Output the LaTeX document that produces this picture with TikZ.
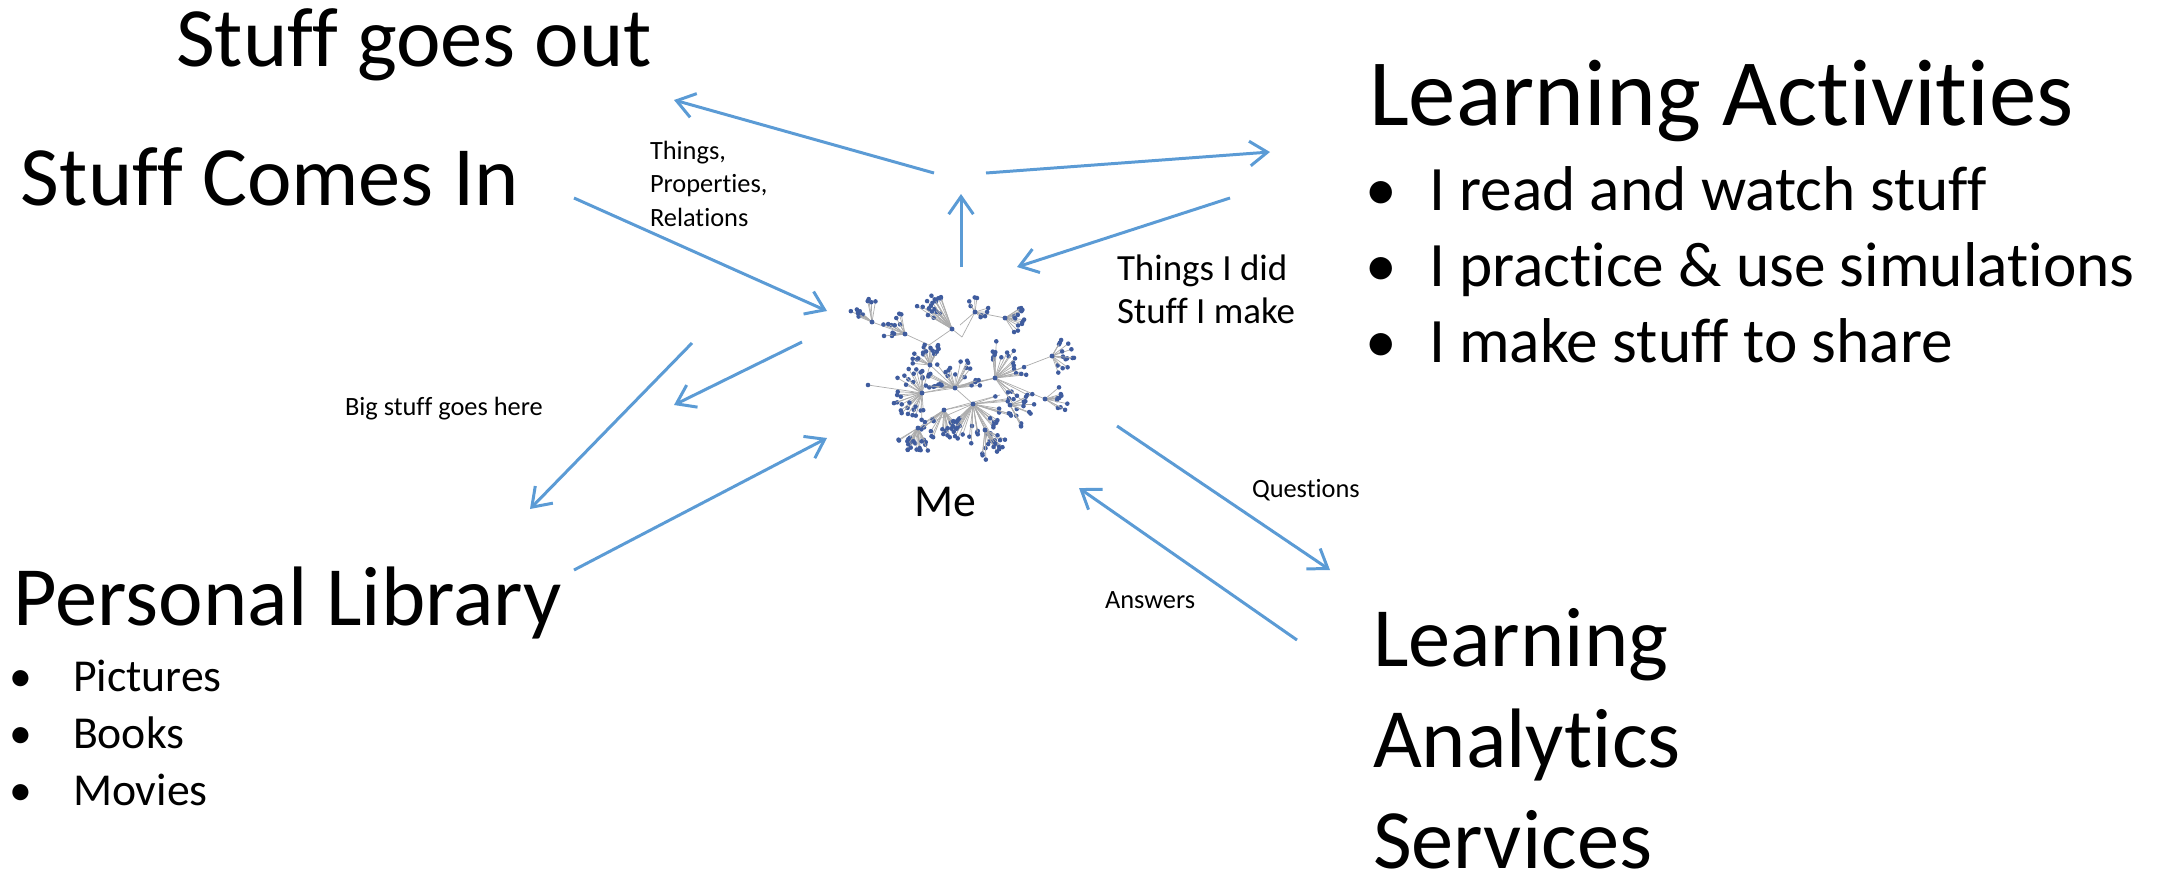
\documentclass[tikz,border=0pt]{standalone}
\usepackage{fontspec}
\setmainfont{Carlito}[Ligatures=CommonOff]
\usetikzlibrary{arrows.meta,positioning}
\definecolor{flowblue}{HTML}{5B9BD5}
\definecolor{dotblue}{HTML}{3F5C9E}

\begin{document}
\begin{tikzpicture}[x=0.01cm, y=-0.01cm,%
	every node/.style={inner sep=0pt, outer sep=0pt, anchor=base west},
	title/.style={font=\fontsize{24}{28.7}\selectfont, align=left},
	bigtitle/.style={font=\fontsize{27}{32}\selectfont},
	item/.style={font=\fontsize{18}{21.6}\selectfont},
	smallitem/.style={font=\fontsize{13}{16}\selectfont},
	note/.style={font=\fontsize{7.5}{9.5}\selectfont, align=left},
	midnote/.style={font=\fontsize{10.5}{12}\selectfont, align=left},
	flow/.style={draw=flowblue, line width=0.85pt, -{Straight Barb[length=5pt,width=7pt]}},
	web/.style={draw=gray!65, line width=0.2pt}]
	\useasboundingbox (0,0) rectangle (2169,881);

	% headings (multi-line nodes sit on their last baseline)
	\node (so) [title] at (176,66) {Stuff goes out};
	\node (sci) [title] at (21,205) {Stuff Comes In};
	\node (la) [bigtitle] at (1369,125) {Learning Activities};
	\node (pl) [title] at (14,625) {Personal Library};
	\node (las) [title] at (1373,868) {Learning\\Analytics\\Services};

	% bullet lists
	\foreach \txt [count=\i] in {I read and watch stuff, I practice \& use simulations, I make stuff to share}{
		\node (lab\i) [item] at (1365,134+76*\i) {\textbullet};
		\node (la\i) [item] at (1429,134+76*\i) {\txt};
	}
	\foreach \txt [count=\i] in {Pictures, Books, Movies}{
		\node (plb\i) [smallitem] at (9,634+57*\i) {\textbullet};
		\node (pl\i) [smallitem] at (73,634+57*\i) {\txt};
	}

	% labels on the flows
	\node (tpr) [note] at (650,226) {Things,\\Properties,\\Relations};
	\node (did) [midnote] at (1117,323) {Things I did\\Stuff I make};
	\node (big) [note] at (345,415) {Big stuff goes here};
	\node (q) [note] at (1252,497) {Questions};
	\node (ans) [note] at (1105,608) {Answers};
	\node (me) [smallitem, anchor=base] at (945,516) {Me};

	% the network that is me
	\pgfmathsetseed{4242}
	\foreach \ax/\ay/\bx/\by in {872/322/905/334, 905/334/929/345, 929/345/952/329,
		952/329/962/337, 929/345/930/365, 930/365/922/393, 922/393/868/385,
		922/393/955/388, 955/388/973/404, 973/404/944/410, 944/410/918/428,
		955/388/995/378, 995/378/1052/356, 995/378/1045/399, 973/404/985/430,
		930/365/955/388, 975/312/1005/318, 975/312/960/325, 962/337/975/312,
		944/410/1000/395, 918/428/973/404, 955/388/1020/372, 922/393/995/378}
		\draw[web] (\ax,\ay) -- (\bx,\by);
	\foreach \hx/\hy/\n/\r/\a/\s in {872/322/12/26/125/50, 905/334/12/24/140/50,
		952/329/20/42/130/22, 975/312/9/16/60/120, 1005/318/13/20/-10/60,
		1052/356/15/24/0/70, 1045/399/10/24/0/40, 922/393/30/30/180/100,
		955/388/28/30/90/90, 973/404/36/42/-60/80, 944/410/20/30/-100/50,
		918/428/24/26/-110/50, 995/378/24/40/20/80, 985/430/16/30/-60/40,
		930/365/18/22/120/60, 1010/405/12/25/-20/50}
	{
		\foreach \k in {1,...,\n}{
			\pgfmathsetmacro\ang{\a+\s*rand}
			\pgfmathsetmacro\rad{\r*(0.45+0.55*rnd)}
			\pgfmathsetmacro\lx{\hx+\rad*cos(\ang)}
			\pgfmathsetmacro\ly{\hy-\rad*sin(\ang)}
			\draw[web] (\hx,\hy) -- (\lx,\ly);
			\fill[dotblue] (\lx,\ly) circle[radius=0.65pt];
		}
		\fill[dotblue] (\hx,\hy) circle[radius=0.7pt];
	}
	\fill[dotblue] (868,385) circle[radius=0.65pt];

	% ends of the flows
	\coordinate (outS) at (934,173);  \coordinate (outT) at (674,100);
	\coordinate (actS) at (986,173);  \coordinate (actT) at (1270,152);
	\coordinate (upS) at (961,267);   \coordinate (upT) at (961,194);
	\coordinate (didS) at (1230,198); \coordinate (didT) at (1017,267);
	\coordinate (inS) at (574,198);   \coordinate (inT) at (827,311);
	\coordinate (bigS) at (692,343);  \coordinate (bigT) at (530,509);
	\coordinate (keepS) at (802,342); \coordinate (keepT) at (674,405);
	\coordinate (libS) at (574,570);  \coordinate (libT) at (827,438);
	\coordinate (qS) at (1117,426);   \coordinate (qT) at (1330,570);
	\coordinate (aS) at (1297,640);   \coordinate (aT) at (1079,488);

	\path
	(outS) edge[flow] (outT)
	(actS) edge[flow] (actT)
	(upS) edge[flow] (upT)
	(didS) edge[flow] (didT)
	(inS) edge[flow] (inT)
	(bigS) edge[flow] (bigT)
	(keepS) edge[flow] (keepT)
	(libS) edge[flow] (libT)
	(qS) edge[flow] (qT)
	(aS) edge[flow] (aT);
\end{tikzpicture}
\end{document}
